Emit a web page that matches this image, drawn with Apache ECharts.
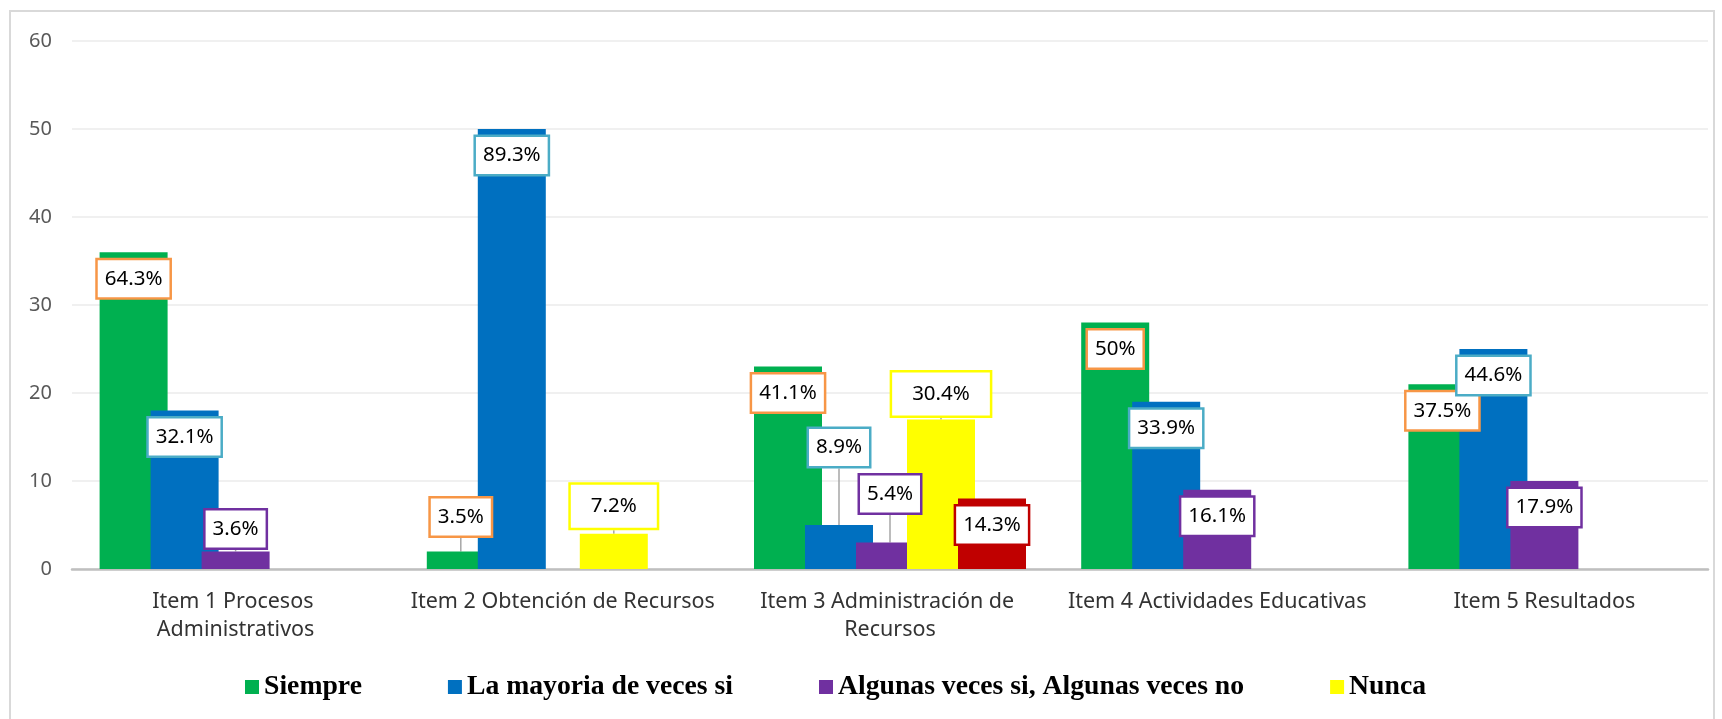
<!DOCTYPE html>
<html>
<head>
<meta charset="utf-8">
<script src="https://cdn.jsdelivr.net/npm/echarts@6/dist/echarts.min.js"></script>
<style>
  html, body { margin: 0; padding: 0; background: #fff; }
  #chart { width: 1722px; height: 719px; }
</style>
</head>
<body>
<div id="chart"></div>
<script>
// categories and values
const categories = [
  'Item 1 Procesos Administrativos',
  'Item 2 Obtención de Recursos',
  'Item 3 Administración de Recursos',
  'Item 4 Actividades Educativas',
  'Item 5 Resultados'
];
const siempre = [36, 2, 23, 28, 21];
const mayoria = [18, 50, 5, 19, 25];
const algunas = [2, 0, 3, 9, 10];
const nunca = [0, 4, 17, 0, 0];
const rojo = [0, 0, 8, 0, 0];

// percentage labels as printed
const siempreLbl = ['64.3%', '3.5%', '41.1%', '50%', '37.5%'];
const mayoriaLbl = ['32.1%', '89.3%', '8.9%', '33.9%', '44.6%'];
const algunasLbl = ['3.6%', '', '5.4%', '16.1%', '17.9%'];
const nuncaLbl = ['', '7.2%', '30.4%', '', ''];
const rojoLbl = ['', '', '14.3%', '', ''];

// labels that sit above their bar (gap in px), null = inside the bar top
const liftSiempre = [null, 16, null, null, null];
const liftMayoria = [null, null, 59, null, null];
const liftAlgunas = [4, null, 30, null, null];
const liftNunca = [null, 6, 4, null, null];
const liftRojo = [null, null, null, null, null];

const chart = echarts.init(document.getElementById('chart'));

function makeSeries(name, values, labels, lifts, color, boxColor, pad) {
  return {
    name: name,
    type: 'bar',
    barWidth: 68,
    barGap: '-25%',
    itemStyle: { color: color },
    labelLine: {
      show: true,
      smooth: false,
      length2: 0,
      lineStyle: { color: '#A6A6A6', width: 1.5 }
    },
    labelLayout: function (p) {
      const g = lifts[p.dataIndex];
      if (g == null) return {};
      return { dy: -g };
    },
    data: values.map(function (v, i) {
      const up = lifts[i] != null;
      return {
        value: v,
        label: {
          show: labels[i] !== '',
          formatter: labels[i],
          position: up ? 'top' : 'insideTop',
          distance: up ? 0 : 8,
          color: '#000',
          fontFamily: 'Noto Sans',
          fontSize: 20.5,
          backgroundColor: '#fff',
          borderColor: boxColor,
          borderWidth: 2.5,
          padding: pad
        }
      };
    })
  };
}

const option = {
  animation: false,
  backgroundColor: '#fff',
  graphic: [{
    type: 'rect',
    shape: { x: 10, y: 11, width: 1704, height: 740 },
    style: { fill: 'none', stroke: '#D9D9D9', lineWidth: 2 },
    silent: true
  }],
  grid: { left: 72, right: 14, top: 41, bottom: 150 },
  legend: {
    data: ['Siempre', 'La mayoria de veces si', 'Algunas veces si, Algunas veces no', 'Nunca'],
    left: 240,
    top: 668,
    itemWidth: 14,
    itemHeight: 14,
    itemGap: 86,
    icon: 'rect',
    textStyle: {
      fontFamily: 'Liberation Serif',
      fontWeight: 'bold',
      fontSize: 27.7,
      color: '#000'
    }
  },
  xAxis: {
    type: 'category',
    data: categories,
    axisLine: { lineStyle: { color: '#BFBFBF', width: 2.5 } },
    axisTick: { show: false },
    axisLabel: {
      interval: 0,
      width: 318,
      overflow: 'break',
      margin: 19,
      lineHeight: 28,
      fontFamily: 'Noto Sans',
      fontSize: 21.5,
      color: '#333'
    }
  },
  yAxis: {
    type: 'value',
    min: 0,
    max: 60,
    interval: 10,
    axisLine: { show: false },
    axisTick: { show: false },
    axisLabel: { fontFamily: 'Noto Sans', fontSize: 20, color: '#595959', margin: 20 },
    splitLine: { lineStyle: { color: '#EBEBEB', width: 1.5 } }
  },
  series: [
    makeSeries('Siempre', siempre, siempreLbl, liftSiempre, '#00B050', '#F79646', [8, 7]),
    makeSeries('La mayoria de veces si', mayoria, mayoriaLbl, liftMayoria, '#0070C0', '#4BACC6', [8, 7]),
    makeSeries('Algunas veces si, Algunas veces no', algunas, algunasLbl, liftAlgunas, '#7030A0', '#7030A0', [8, 7]),
    makeSeries('Nunca', nunca, nuncaLbl, liftNunca, '#FFFF00', '#FFFF00', [11, 20]),
    makeSeries('Otro', rojo, rojoLbl, liftRojo, '#C00000', '#C00000', [8, 7])
  ]
};

chart.setOption(option);
</script>
</body>
</html>
